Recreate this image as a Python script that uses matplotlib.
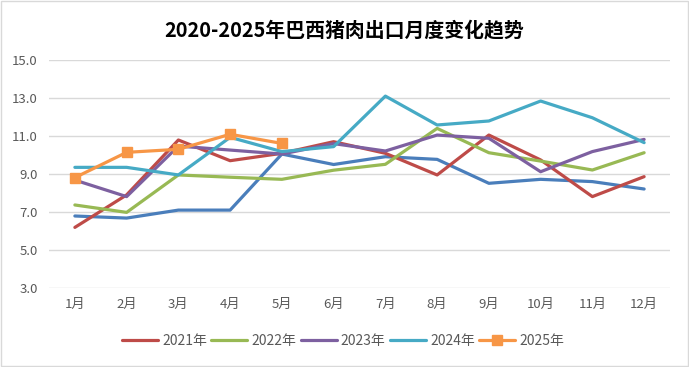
import matplotlib.pyplot as plt
import matplotlib
from matplotlib.patches import Rectangle

plt.rcParams['font.family'] = ['Noto Sans CJK SC', 'DejaVu Sans']

months = ["1月", "2月", "3月", "4月", "5月", "6月", "7月", "8月", "9月", "10月", "11月", "12月"]
y2020 = [6.79, 6.68, 7.1, 7.1, 10.05, 9.5, 9.91, 9.77, 8.51, 8.72, 8.6, 8.21]
y2021 = [6.19, 7.9, 10.79, 9.7, 10.09, 10.7, 10.09, 8.95, 11.05, 9.74, 7.81, 8.86]
y2022 = [7.37, 6.98, 8.95, 8.83, 8.72, 9.2, 9.51, 11.4, 10.12, 9.68, 9.21, 10.12]
y2023 = [8.68, 7.81, 10.47, 10.26, 10.05, 10.6, 10.21, 11.05, 10.88, 9.12, 10.18, 10.82]
y2024 = [9.35, 9.35, 8.95, 10.93, 10.18, 10.44, 13.1, 11.58, 11.79, 12.84, 11.96, 10.65]
y2025 = [8.81, 10.14, 10.3, 11.09, 10.61]

fig = plt.figure(figsize=(6.89, 3.67), dpi=100)
fig.patches.append(Rectangle((0.002, 0.003), 0.996, 0.994, transform=fig.transFigure,
                             fill=False, edgecolor='#d9d9d9', linewidth=1))
ax = fig.add_axes([49/689, 1-288/367, 621/689, 228/367])

x = list(range(1, 13))
lw = 2.3
ax.plot(x, y2020, color='#4a7ebb', lw=lw, solid_capstyle='round', label='_nolegend_')
ax.plot(x, y2021, color='#be4b48', lw=lw, solid_capstyle='round', label='2021年')
ax.plot(x, y2022, color='#98b954', lw=lw, solid_capstyle='round', label='2022年')
ax.plot(x, y2023, color='#7d60a0', lw=lw, solid_capstyle='round', label='2023年')
ax.plot(x, y2024, color='#46aac5', lw=lw, solid_capstyle='round', label='2024年')
ax.plot(x[:len(y2025)], y2025, color='#f79646', lw=lw, marker='s', markersize=7,
        solid_capstyle='round', label='2025年')

ax.set_xlim(0.5, 12.5)
ax.set_ylim(3, 15)
ax.set_yticks([3, 5, 7, 9, 11, 13, 15])
ax.set_yticklabels([f"{v:.1f}" for v in [3, 5, 7, 9, 11, 13, 15]])
ax.set_xticks(x)
ax.set_xticklabels(months)
ax.tick_params(length=0, labelsize=9.5, colors='#595959')
ax.tick_params(axis='x', pad=7)
ax.tick_params(axis='y', pad=8)
ax.grid(axis='y', color='#d9d9d9', lw=1)
ax.set_axisbelow(True)
for s in ax.spines.values():
    s.set_visible(False)

fig.text(0.5, 1-30/367, "2020-2025年巴西猪肉出口月度变化趋势", ha='center', va='center',
         fontsize=14.3, fontweight='bold', color='black')

ax.legend(loc='center', bbox_to_anchor=(343/689, 1-341/367), bbox_transform=fig.transFigure,
          ncol=5, frameon=False, fontsize=10, labelcolor='#595959', handlelength=2.6,
          handletextpad=0.3, columnspacing=0.3, borderpad=0)

fig.savefig("out.png", dpi=100)
